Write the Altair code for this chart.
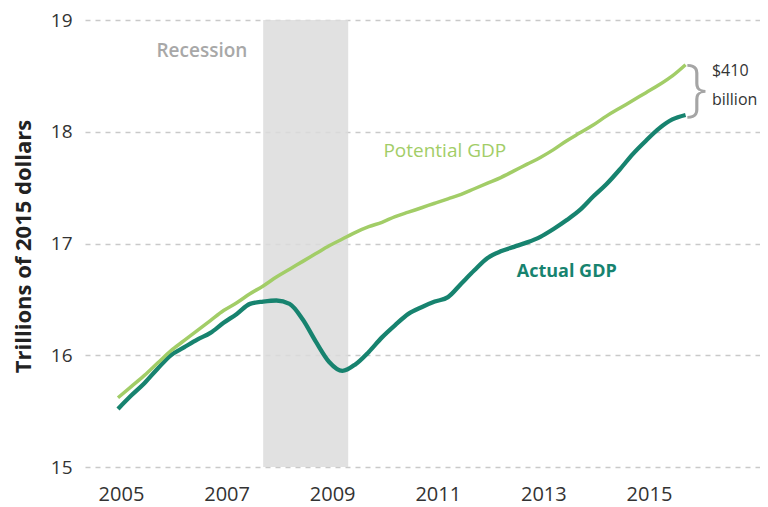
import altair as alt
import pandas as pd

# quarterly, 2005Q1 .. 2015Q4
years = [2005 + q * 0.25 for q in range(44)]
actual = [15.52, 15.64, 15.75, 15.88, 16.00, 16.07, 16.14, 16.20, 16.29, 16.37, 16.46,
          16.48, 16.49, 16.46, 16.32, 16.12, 15.94, 15.86, 15.92, 16.03, 16.16, 16.27,
          16.37, 16.43, 16.48, 16.52, 16.64, 16.76, 16.87, 16.93, 16.97, 17.01, 17.06,
          17.13, 17.21, 17.30, 17.42, 17.53, 17.66, 17.80, 17.92, 18.03, 18.11, 18.15]
potential = [15.62, 15.72, 15.82, 15.93, 16.04, 16.13, 16.22, 16.31, 16.40, 16.47, 16.55,
             16.62, 16.70, 16.77, 16.84, 16.91, 16.98, 17.04, 17.10, 17.15, 17.19, 17.24,
             17.28, 17.32, 17.36, 17.40, 17.44, 17.49, 17.54, 17.59, 17.65, 17.71, 17.77,
             17.84, 17.92, 17.99, 18.06, 18.14, 18.21, 18.28, 18.35, 18.42, 18.50, 18.60]
recession = [2007.75, 2009.36]
y_ticks = [15, 16, 17, 18, 19]
x_ticks = [2005, 2007, 2009, 2011, 2013, 2015]

FONT = "Open Sans"
TEAL = "#17836f"
LIGHT = "#a2cd67"

df = pd.DataFrame({"year": years, "actual": actual, "potential": potential})
rec = pd.DataFrame({"start": [recession[0]], "end": [recession[1]], "lo": [15], "hi": [19]})

xs = alt.Scale(domain=[2004.375, 2017.16], nice=False, zero=False)
ys = alt.Scale(domain=[15, 19], nice=False, zero=False)

xax = alt.Axis(values=x_ticks, format="d", grid=False, domain=False, ticks=False,
               labelFont=FONT, labelFontSize=20, labelColor="#333333", labelPadding=17,
               labelOffset=3, title=None)
yax = alt.Axis(values=y_ticks, format="d", grid=True, gridDash=[5, 5], gridColor="#c9c9c9",
               gridWidth=1.4, domain=False, ticks=False, labelFont=FONT,
               labelFontSize=19, labelColor="#333333", labelPadding=13,
               title="Trillions of 2015 dollars", titleFont=FONT, titleFontSize=22,
               titleFontWeight="bold", titleColor="#222222", titleAngle=-90,
               titleX=-62, titleY=226, titleAlign="center", titleBaseline="middle")


def X(f):
    return alt.X(f, scale=xs, axis=xax)


def Y(f):
    return alt.Y(f, scale=ys, axis=yax)


band = alt.Chart(rec).mark_rect(color="#dcdcdc", opacity=0.85).encode(
    x=X("start:Q"), x2="end:Q", y=Y("lo:Q"), y2="hi:Q")

line_a = alt.Chart(df).mark_line(color=TEAL, strokeWidth=4.3, interpolate="monotone").encode(
    x=X("year:Q"), y=Y("actual:Q"))
line_p = alt.Chart(df).mark_line(color=LIGHT, strokeWidth=3.5, interpolate="monotone").encode(
    x=X("year:Q"), y=Y("potential:Q"))

labels = pd.DataFrame({
    "x": [2006.59, 2011.19, 2013.50],
    "y": [18.72, 17.83, 16.745],
    "text": ["Recession", "Potential GDP", "Actual GDP"],
})

t_rec = alt.Chart(labels.iloc[[0]]).mark_text(font=FONT, fontSize=19, fontWeight=600,
                                              color="#a8a8a8").encode(
    x=X("x:Q"), y=Y("y:Q"), text="text:N")
t_pot = alt.Chart(labels.iloc[[1]]).mark_text(font=FONT, fontSize=19, fontWeight=500,
                                              color=LIGHT).encode(
    x=X("x:Q"), y=Y("y:Q"), text="text:N")
t_act = alt.Chart(labels.iloc[[2]]).mark_text(font=FONT, fontSize=18, fontWeight="bold",
                                              color=TEAL).encode(
    x=X("x:Q"), y=Y("y:Q"), text="text:N")

gap = pd.DataFrame({"x": [2016.25, 2016.25], "y": [18.54, 18.28], "text": ["$410", "billion"]})
t_gap = alt.Chart(gap).mark_text(font=FONT, fontSize=16, color="#333333", align="left").encode(
    x=X("x:Q"), y=Y("y:Q"), text="text:N")

brace = pd.DataFrame({"x": [2015.95], "y": [18.37], "text": ["}"]})
t_brace = alt.Chart(brace).mark_text(font=FONT, fontSize=62, fontWeight=300, color="#a5a5a5").encode(
    x=X("x:Q"), y=Y("y:Q"), text="text:N")

chart = alt.layer(band, line_a, line_p, t_rec, t_pot, t_act, t_gap, t_brace).properties(
    width=675, height=447,
    autosize=alt.AutoSizeParams(type="none"),
    padding={"left": 77, "top": 12, "right": 0, "bottom": 44},
).configure_view(strokeWidth=0)

chart.save("out.html", embed_options={"renderer": "svg", "actions": False})
